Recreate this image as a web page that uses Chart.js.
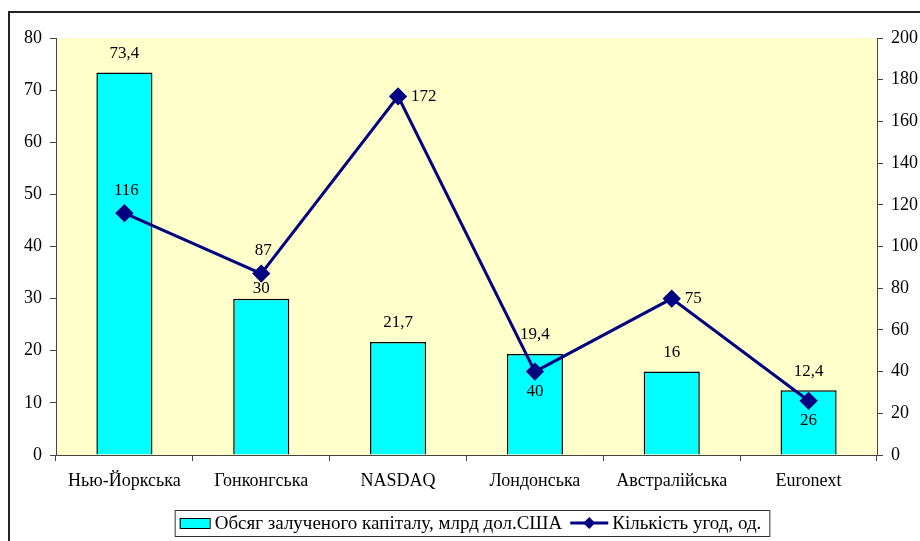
<!DOCTYPE html>
<html>
<head>
<meta charset="utf-8">
<script src="https://cdn.jsdelivr.net/npm/chart.js@4"></script>
<style>
  html, body { margin: 0; padding: 0; background: #fff; }
  #wrap { width: 920px; height: 541px; position: relative; }
</style>
</head>
<body>
<div id="wrap"><canvas id="myChart" width="920" height="541"></canvas></div>
<script>
const exchanges = ["Нью-Йоркська", "Гонконгська", "NASDAQ", "Лондонська", "Австралійська", "Euronext"];
const capital = [73.4, 30, 21.7, 19.4, 16, 12.4];
const deals = [116, 87, 172, 40, 75, 26];
const capitalLabel = "Обсяг залученого капіталу, млрд дол.США";
const dealsLabel = "Кількість угод, од.";

const serif = "'Liberation Serif', 'DejaVu Serif', serif";

// where each line label sits relative to its point
const dealPos = ["top", "top", "right", "bottom", "right", "bottom"];
// gap between bar top and its label (the 30 one was nudged down in the original)
const barGap = [19, 10, 19, 19, 19, 19];

const framePlugin = {
    id: "frame",
    beforeDraw(chart) {
        const c = chart.ctx;
        c.save();
        c.fillStyle = "#ffffff";
        c.fillRect(0, 0, chart.width, chart.height);
        c.strokeStyle = "#222";
        c.lineWidth = 2;
        c.beginPath();
        c.moveTo(9, chart.height + 2);
        c.lineTo(9, 12);
        c.lineTo(chart.width + 2, 12);
        c.stroke();
        const a = chart.chartArea;
        c.fillStyle = "#ffffcc";
        c.fillRect(a.left, a.top, a.right - a.left, a.bottom - a.top);
        c.restore();
    }
};

const labelPlugin = {
    id: "labels",
    afterDatasetsDraw(chart) {
        const c = chart.ctx;
        c.save();
        c.font = "17px " + serif;
        c.fillStyle = "#000";
        c.textBaseline = "middle";
        c.textAlign = "center";
        chart.getDatasetMeta(1).data.forEach((bar, i) => {
            c.fillText(String(capital[i]).replace(".", ","), bar.x, bar.y - barGap[i]);
        });
        chart.getDatasetMeta(0).data.forEach((pt, i) => {
            const txt = String(deals[i]);
            if (dealPos[i] == "top") {
                c.textAlign = "center";
                c.fillText(txt, pt.x + 2, pt.y - 23);
            } else if (dealPos[i] == "bottom") {
                c.textAlign = "center";
                c.fillText(txt, pt.x, pt.y + 20);
            } else {
                c.textAlign = "left";
                c.fillText(txt, pt.x + 13, pt.y);
            }
        });
        c.restore();
    }
};

const legendPlugin = {
    id: "ownLegend",
    afterDraw(chart) {
        const c = chart.ctx;
        c.save();
        c.font = "19px " + serif;
        c.textBaseline = "middle";
        const w1 = c.measureText(capitalLabel).width;
        const w2 = c.measureText(dealsLabel).width;
        const total = 5 + 30 + 5 + w1 + 8 + 38 + 4 + w2 + 8;
        const x0 = 472 - total / 2;
        const y0 = 510, h = 26, cy = y0 + h / 2;
        c.strokeStyle = "#333";
        c.lineWidth = 1;
        c.strokeRect(x0 + 0.5, y0 + 0.5, total, h);
        let x = x0 + 5;
        c.fillStyle = "#00ffff";
        c.fillRect(x, cy - 5, 30, 10);
        c.strokeStyle = "#000";
        c.strokeRect(x + 0.5, cy - 5 + 0.5, 30, 10);
        x += 35;
        c.fillStyle = "#000";
        c.fillText(capitalLabel, x, cy + 1);
        x += w1 + 8;
        c.strokeStyle = "#000080";
        c.lineWidth = 3;
        c.beginPath();
        c.moveTo(x, cy);
        c.lineTo(x + 38, cy);
        c.stroke();
        c.fillStyle = "#000080";
        c.beginPath();
        c.moveTo(x + 19, cy - 6);
        c.lineTo(x + 25, cy);
        c.lineTo(x + 19, cy + 6);
        c.lineTo(x + 13, cy);
        c.closePath();
        c.fill();
        x += 42;
        c.fillStyle = "#000";
        c.fillText(dealsLabel, x, cy + 1);
        c.restore();
    }
};

const ctx = document.getElementById("myChart").getContext("2d");
new Chart(ctx, {
    data: {
        labels: exchanges,
        datasets: [
            {
                type: "line",
                label: dealsLabel,
                data: deals,
                yAxisID: "y2",
                borderColor: "#000080",
                backgroundColor: "#000080",
                borderWidth: 3,
                pointStyle: "rectRot",
                pointRadius: 7,
                pointHoverRadius: 7,
                tension: 0,
                order: 0
            },
            {
                type: "bar",
                label: capitalLabel,
                data: capital,
                yAxisID: "y",
                backgroundColor: "#00ffff",
                borderColor: "#000",
                borderWidth: 1.5,
                barPercentage: 0.82,
                categoryPercentage: 0.5,
                order: 1
            }
        ]
    },
    options: {
        responsive: false,
        animation: false,
        events: [],
        layout: { padding: { top: 38, left: 0, right: 0, bottom: 0 } },
        plugins: { legend: { display: false }, tooltip: { enabled: false } },
        scales: {
            x: {
                offset: true,
                afterFit(s) { s.height = 86; },
                border: { color: "#444", width: 1 },
                grid: { drawOnChartArea: false, offset: true, tickLength: 6, color: "#444" },
                ticks: { color: "#000", font: { family: serif, size: 18 }, padding: 9, maxRotation: 0, autoSkip: false }
            },
            y: {
                position: "left",
                min: 0, max: 80,
                afterFit(s) { s.width = 56; },
                border: { color: "#444", width: 1 },
                grid: { drawOnChartArea: false, tickLength: 6, color: "#444" },
                ticks: { stepSize: 10, color: "#000", font: { family: serif, size: 18 }, padding: 8 }
            },
            y2: {
                position: "right",
                min: 0, max: 200,
                afterFit(s) { s.width = 43; },
                border: { color: "#444", width: 1 },
                grid: { drawOnChartArea: false, tickLength: 6, color: "#444" },
                ticks: { stepSize: 20, color: "#000", font: { family: serif, size: 18 }, padding: 8 }
            }
        }
    },
    plugins: [framePlugin, labelPlugin, legendPlugin]
});
</script>
</body>
</html>
